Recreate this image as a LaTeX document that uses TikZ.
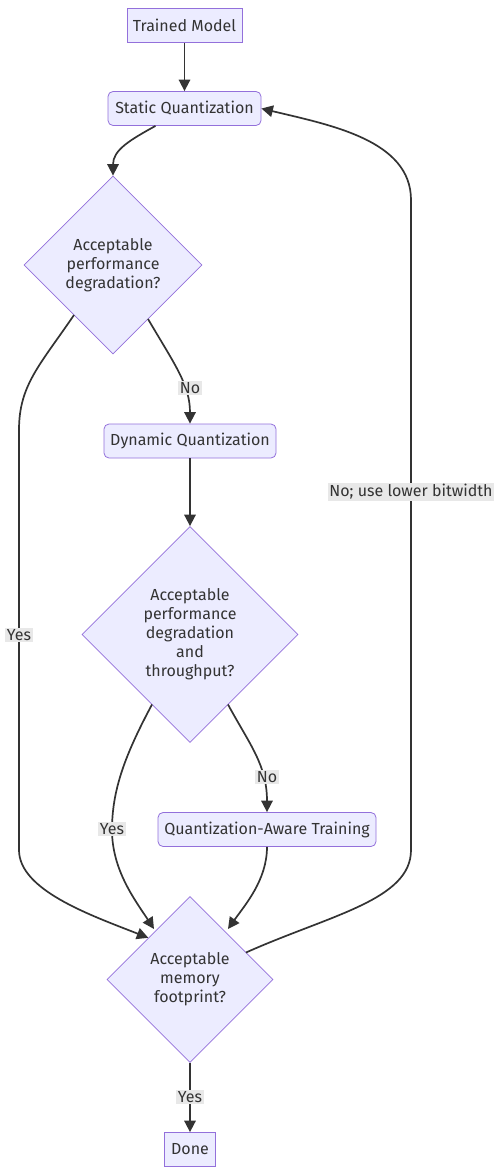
\documentclass[tikz,border=0pt]{standalone}
\usepackage{fontspec}
\setmainfont{Fira Sans}
\usetikzlibrary{shapes.geometric,arrows.meta}
\definecolor{nfill}{HTML}{ECECFF}
\definecolor{nline}{HTML}{9370DB}
\definecolor{ink}{HTML}{333333}
\definecolor{lblbg}{HTML}{E8E8E8}
\begin{document}
\begin{tikzpicture}[x=1pt,y=-1pt,
  every node/.style={font=\fontsize{16}{19}\selectfont, text=ink},
  box/.style={draw=nline, fill=nfill, line width=0.8pt, minimum height=34pt, inner sep=0pt},
  rbox/.style={box, rounded corners=5pt},
  dec/.style={diamond, aspect=1, draw=nline, fill=nfill, line width=0.8pt, inner sep=0pt, align=center},
  lbl/.style={fill=lblbg, inner sep=1.5pt, font=\fontsize{16}{19}\selectfont},
  edge/.style={draw=ink, line width=1.7pt, -{Triangle[length=11.5pt,width=11.5pt]}}]
\useasboundingbox (0,0) rectangle (501,1174);
\node[box, minimum width=115pt] (tm) at (184.5,25.5) {Trained Model};
\node[rbox, minimum width=153pt] (sq) at (184.5,108.5) {Static Quantization};
\node[dec, minimum width=178pt, minimum height=178pt] (d1) at (113,265) {Acceptable\\performance\\degradation?};
\node[rbox, minimum width=172pt] (dq) at (190,441) {Dynamic Quantization};
\node[dec, minimum width=216pt, minimum height=216pt] (d2) at (190,634.5) {Acceptable\\performance\\degradation\\and\\throughput?};
\node[rbox, minimum width=218pt] (qat) at (267,829.5) {Quantization-Aware Training};
\node[dec, minimum width=166pt, minimum height=166pt] (d3) at (190,979.5) {Acceptable\\memory\\footprint?};
\node[box, minimum width=51pt] (done) at (190,1149.5) {Done};

\draw[edge] (tm.south) -- (sq.north);
\draw[edge] (sq.south) ++(-29,0) .. controls (130,140) and (113,150) .. (d1.north);
\draw[edge] (d1.center) ++(35,54) .. controls (175,365) and (190,385) .. (dq.north);
\draw[edge] (d1.center) ++(-39,50) .. controls (40,365) and (19,385) .. (19,430) -- (19,850) .. controls (19,890) and (90,915) .. (d3.north west);
\draw[edge] (dq.south) -- (d2.north);
\draw[edge] (d2.center) ++(38,70) .. controls (250,745) and (267,765) .. (qat.north);
\draw[edge] (d2.center) ++(-38,70) .. controls (125,755) and (112,790) .. (112,830) .. controls (112,870) and (135,900) .. (154,929);
\draw[edge] (qat.south) .. controls (267,880) and (245,905) .. (228,929);
\draw[edge] (d3.center) ++(56,-27) .. controls (330,915) and (411,900) .. (411,850) -- (411,200) .. controls (411,140) and (330,125) .. (sq.east);
\draw[edge] (d3.south) -- (done.north);

\node[lbl] (l1) at (190,388) {No};
\node[lbl] (l2) at (19,635) {Yes};
\node[lbl] (l3) at (267,777) {No};
\node[lbl] (l4) at (112,829) {Yes};
\node[lbl] (l5) at (411,492) {No; use lower bitwidth};
\node[lbl] (l6) at (190,1097) {Yes};
\end{tikzpicture}
\end{document}
